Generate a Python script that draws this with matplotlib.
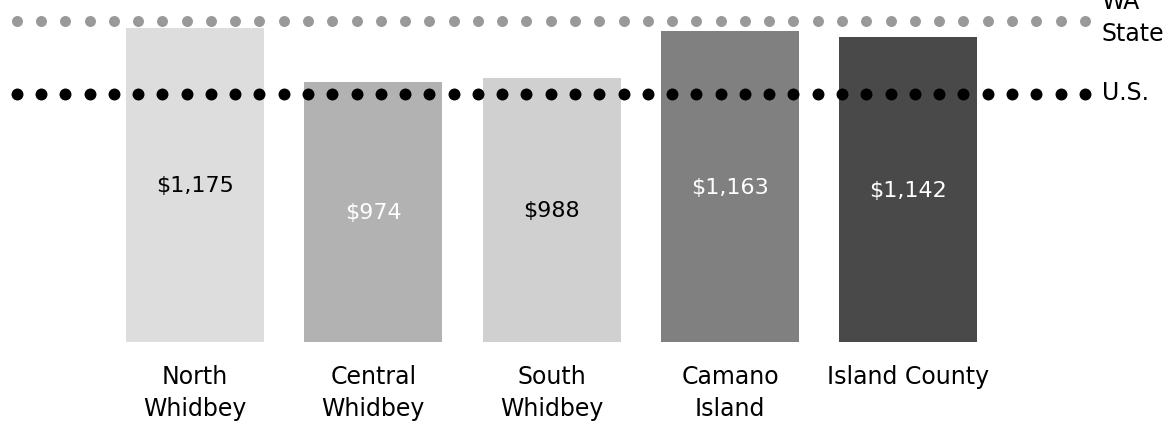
import numpy as np
import matplotlib.pyplot as plt

# median rent by area
areas = ['North\nWhidbey', 'Central\nWhidbey', 'South\nWhidbey', 'Camano\nIsland', 'Island County']
rent = [1175, 974, 988, 1163, 1142]
bar_colors = ['#dddddd', '#b2b2b2', '#d0d0d0', '#808080', '#494949']
label_colors = ['black', 'white', 'black', 'white', 'white']

# reference lines
ref_names = ['WA\nState', 'U.S.']
ref_values = [1201, 928]
ref_colors = ['#999999', 'black']
ref_sizes = [7.9, 8.6]

plt.rcParams['font.family'] = ['DejaVu Sans']

fig = plt.figure(figsize=(11.75, 4.34), dpi=100)
ax = fig.add_axes([0, 0, 1, 1])

x = np.arange(len(areas))
ax.bar(x, rent, width=0.775, color=bar_colors, zorder=1)

for xi, v, c in zip(x, rent, label_colors):
    ax.text(xi, v / 2 - 5, '${:,}'.format(v), ha='center', va='center', fontsize=16, color=c, zorder=3)

for xi, name in zip(x, areas):
    ax.text(xi, -84, name, ha='center', va='top', fontsize=17, linespacing=1.45)

# dotted lines drawn as rows of dots
dots_x = np.linspace(-1.0, 4.99, 45)
label_shift = [12, 5]
for name, v, c, s, dy in zip(ref_names, ref_values, ref_colors, ref_sizes, label_shift):
    ax.plot(dots_x, np.full(len(dots_x), v), linestyle='none', marker='o',
            markersize=s, color=c, markeredgewidth=0, zorder=2)
    ax.text(5.085, v + dy, name, ha='left', va='center', fontsize=17, linespacing=1.4)

ax.set_xlim(-1.0937, 5.496)
ax.set_ylim(-344, 1280)
ax.axis('off')

fig.savefig('out.png', dpi=100)
